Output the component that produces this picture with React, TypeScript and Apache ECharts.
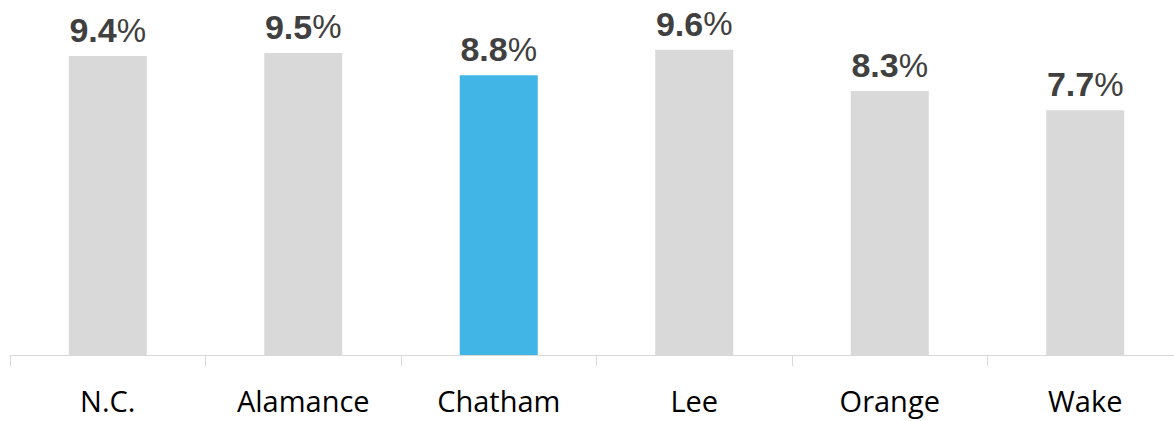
import React, { useEffect, useRef } from "react";
import * as echarts from "echarts";

const categories = ["N.C.", "Alamance", "Chatham", "Lee", "Orange", "Wake"];
const values = [9.4, 9.5, 8.8, 9.6, 8.3, 7.7];
const highlight = "Chatham";

export default function App() {
  const ref = useRef<HTMLDivElement>(null);
  useEffect(() => {
    if (!ref.current) return;
    const chart = echarts.init(ref.current, null, { renderer: "svg" });
    chart.setOption({
      animation: false,
      grid: { left: 10, top: 37, width: 1173, height: 318 },
      xAxis: {
        type: "category",
        data: categories,
        axisLine: { show: true, lineStyle: { color: "#d9d9d9", width: 1 } },
        axisTick: { show: true, length: 11, lineStyle: { color: "#d9d9d9" } },
        axisLabel: {
          color: "#000000",
          fontFamily: "Open Sans",
          fontSize: 29,
          margin: 31,
        },
      },
      yAxis: {
        type: "value",
        min: 0,
        max: 10,
        show: false,
        splitLine: { show: false },
      },
      series: [
        {
          type: "bar",
          barWidth: 78,
          data: values.map((v, i) => ({
            value: v,
            itemStyle: { color: categories[i] === highlight ? "#41b6e6" : "#d9d9d9" },
          })),
          label: {
            show: true,
            position: "top",
            distance: 9,
            formatter: (p: any) => `{a|${p.value.toFixed(1)}}{b|%}`,
            rich: {
              a: { fontFamily: "Liberation Sans", fontWeight: "bold", fontSize: 34, color: "#404040" },
              b: { fontFamily: "Liberation Sans", fontWeight: "normal", fontSize: 33, color: "#404040" },
            },
          },
        },
      ],
    });
    return () => chart.dispose();
  }, []);
  return (
    <div style={{ position: "absolute", left: 0, top: 0, width: 1174, height: 421, overflow: "hidden", background: "#fff" }}>
      <div ref={ref} style={{ width: 1200, height: 421 }} />
    </div>
  );
}
